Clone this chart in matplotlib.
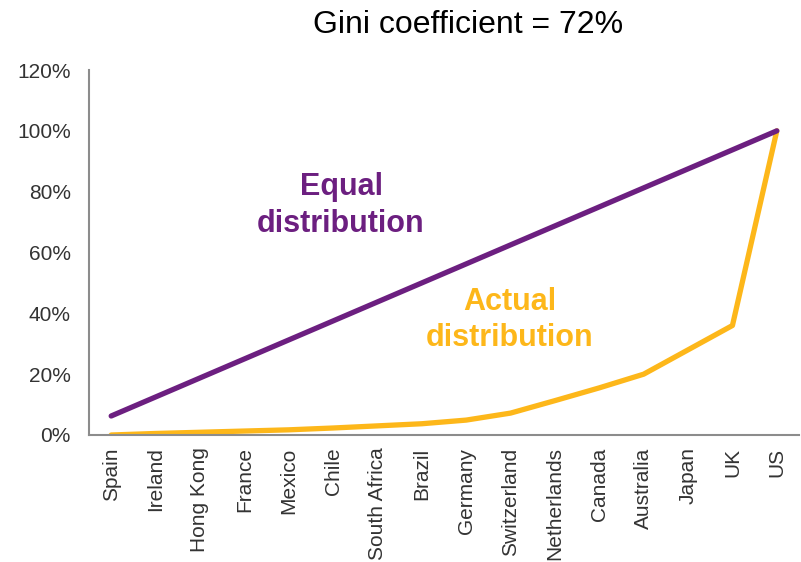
import matplotlib
matplotlib.use("Agg")
import matplotlib.pyplot as plt
from matplotlib.ticker import FuncFormatter

plt.rcParams['font.family'] = ['Liberation Sans', 'DejaVu Sans']

countries = ["Spain", "Ireland", "Hong Kong", "France", "Mexico", "Chile",
             "South Africa", "Brazil", "Germany", "Switzerland", "Netherlands",
             "Canada", "Australia", "Japan", "UK", "US"]
equal = [6.25, 12.5, 18.75, 25.0, 31.25, 37.5, 43.75, 50.0, 56.25, 62.5,
         68.75, 75.0, 81.25, 87.5, 93.75, 100.0]
actual = [0.0, 0.5, 0.9, 1.3, 1.7, 2.3, 3.0, 3.7, 4.9, 7.2, 11.3, 15.5,
          20.0, 28.0, 36.0, 100.0]
yticks = [0, 20, 40, 60, 80, 100, 120]

purple = "#6C1F80"
orange = "#FDB71A"
grey = "#8C8C8C"

W, H = 801, 562
fig = plt.figure(figsize=(W/100, H/100), dpi=100)
ax = fig.add_axes([89/W, (H-435)/H, (799-89)/W, (435-70)/H])

x = list(range(len(countries)))
ax.plot(x, actual, color=orange, lw=3.8, solid_capstyle='round', solid_joinstyle='round', zorder=2)
ax.plot(x, equal, color=purple, lw=3.8, solid_capstyle='round', solid_joinstyle='round', zorder=3)

ax.set_xlim(-0.5, len(countries) - 0.5)
ax.set_ylim(0, 120)
ax.set_yticks(yticks)
ax.yaxis.set_major_formatter(FuncFormatter(lambda v, p: f"{int(v)}%"))
ax.set_xticks(x)
ax.set_xticklabels(countries, rotation=90)
ax.tick_params(axis='both', length=0, labelsize=15, labelcolor="#333333")
ax.tick_params(axis='y', pad=13)
ax.tick_params(axis='x', pad=9)

for s in ['top', 'right']:
    ax.spines[s].set_visible(False)
for s in ['left', 'bottom']:
    ax.spines[s].set_color(grey)
    ax.spines[s].set_linewidth(1.5)

def ftext(px, py, s, **kw):
    fig.text(px/W, 1 - py/H, s, ha='center', va='baseline', **kw)

ftext(468, 33, "Gini coefficient = 72%", fontsize=23, color='black')

ftext(341, 195, "Equal", fontsize=22, fontweight='bold', color=purple)
ftext(341, 232, "distribution", fontsize=22, fontweight='bold', color=purple)
ftext(510, 310, "Actual", fontsize=22, fontweight='bold', color=orange)
ftext(510, 346, "distribution", fontsize=22, fontweight='bold', color=orange)

fig.savefig("out.png", dpi=100)
